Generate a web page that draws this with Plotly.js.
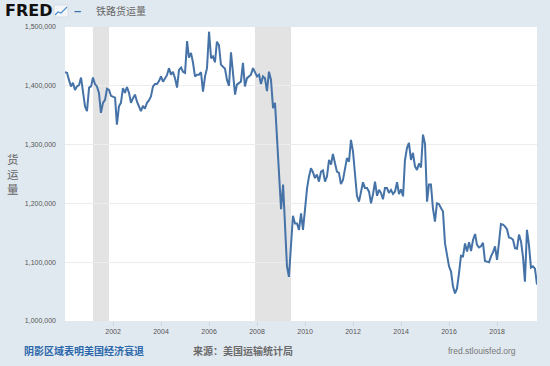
<!DOCTYPE html>
<html>
<head>
<meta charset="utf-8">
<script src="https://cdn.plot.ly/plotly-3.0.1.min.js"></script>
<style>
  html, body { margin: 0; padding: 0; background: #e1e9f0; }
  #chart { width: 550px; height: 366px; }
</style>
</head>
<body>
<div id="chart"></div>
<script>
// Rail freight carloads, monthly (thousands)
const v2000 = [1423, 1422, 1410, 1399, 1405, 1393, 1399, 1401, 1414, 1390, 1365, 1357];
const v2001 = [1397, 1399, 1414, 1403, 1399, 1388, 1354, 1371, 1376, 1395, 1393, 1383];
const v2002 = [1382, 1380, 1334, 1365, 1371, 1396, 1388, 1398, 1388, 1371, 1379, 1385];
const v2003 = [1373, 1365, 1357, 1366, 1361, 1371, 1375, 1382, 1399, 1403, 1403, 1408];
const v2004 = [1416, 1407, 1413, 1418, 1430, 1419, 1424, 1413, 1397, 1427, 1431, 1424];
const v2005 = [1422, 1476, 1448, 1456, 1440, 1416, 1419, 1419, 1423, 1390, 1416, 1430];
const v2006 = [1492, 1447, 1450, 1440, 1475, 1469, 1436, 1433, 1429, 1410, 1400, 1457];
const v2007 = [1413, 1385, 1402, 1405, 1407, 1439, 1399, 1413, 1416, 1419, 1430, 1422];
const v2008 = [1416, 1419, 1403, 1416, 1413, 1391, 1424, 1410, 1362, 1371, 1308, 1238];
const v2009 = [1190, 1232, 1161, 1093, 1075, 1138, 1179, 1166, 1166, 1155, 1183, 1155];
const v2010 = [1192, 1226, 1245, 1260, 1253, 1243, 1249, 1237, 1254, 1256, 1237, 1246];
const v2011 = [1274, 1266, 1284, 1271, 1254, 1252, 1233, 1240, 1263, 1277, 1271, 1308];
const v2012 = [1288, 1243, 1213, 1203, 1220, 1236, 1226, 1226, 1220, 1200, 1216, 1237];
const v2013 = [1213, 1223, 1218, 1207, 1226, 1226, 1218, 1223, 1216, 1220, 1236, 1216];
const v2014 = [1224, 1212, 1273, 1294, 1303, 1274, 1286, 1263, 1257, 1268, 1261, 1317];
const v2015 = [1301, 1203, 1232, 1232, 1192, 1169, 1200, 1199, 1192, 1186, 1132, 1115];
const v2016 = [1093, 1084, 1059, 1047, 1055, 1081, 1111, 1110, 1132, 1118, 1134, 1119];
const v2017 = [1138, 1148, 1130, 1125, 1127, 1133, 1102, 1101, 1100, 1110, 1117, 1127];
const v2018 = [1104, 1135, 1165, 1164, 1161, 1156, 1142, 1141, 1138, 1124, 1123, 1147];
const v2019 = [1135, 1108, 1067, 1155, 1130, 1091, 1093, 1089, 1062];

const yearly = [v2000, v2001, v2002, v2003, v2004, v2005, v2006, v2007, v2008, v2009,
                v2010, v2011, v2012, v2013, v2014, v2015, v2016, v2017, v2018, v2019];
const firstYear = 2000;

const recessionStarts = ['2001-03-01', '2007-12-01'];
const recessionEnds   = ['2001-11-01', '2009-06-01'];

const xTickVals = ['2002-01-01','2004-01-01','2006-01-01','2008-01-01','2010-01-01','2012-01-01','2014-01-01','2016-01-01','2018-01-01'];
const xTickText = ['2002','2004','2006','2008','2010','2012','2014','2016','2018'];
const yTickVals = [1000000, 1100000, 1200000, 1300000, 1400000, 1500000];
const yTickText = ['1,000,000','1,100,000','1,200,000','1,300,000','1,400,000','1,500,000'];

const chartTitle = '铁路货运量';
const yTitle = '货运量';
const noteText = '阴影区域表明美国经济衰退';
const sourceText = '来源：美国运输统计局';
const urlText = 'fred.stlouisfed.org';

// build x/y
const dates = [], vals = [];
yearly.forEach((arr, yi) => {
  arr.forEach((v, m) => {
    dates.push((firstYear + yi) + '-' + String(m + 1).padStart(2, '0') + '-01');
    vals.push(v * 1000);
  });
});

// pixel helpers for decorations
const L = 65, R = 13, T = 27, B = 45, W = 550, H = 366;
const pw = W - L - R, ph = H - T - B;
const px = x => (x - L) / pw;
const py = y => (H - B - y) / ph;

const cjk = '"Noto Sans CJK SC", "Noto Sans", sans-serif';
const sans = '"Liberation Sans", Arial, sans-serif';

const shapes = recessionStarts.map((s, k) => ({
  type: 'rect', xref: 'x', yref: 'paper', x0: s, x1: recessionEnds[k], y0: 0, y1: 1,
  fillcolor: '#e3e3e3', line: { width: 0 }, layer: 'between'
}));
// small FRED chart icon
shapes.push({ type: 'rect', xref: 'paper', yref: 'paper', x0: px(54), x1: px(68), y0: py(17), y1: py(5),
  fillcolor: '#f4f6f8', line: { color: '#c9d3dc', width: 0.6 } });
shapes.push({ type: 'path', xref: 'paper', yref: 'paper',
  path: 'M ' + px(55) + ' ' + py(15) + ' L ' + px(58) + ' ' + py(12) + ' L ' + px(61) + ' ' + py(13) + ' L ' + px(67) + ' ' + py(7),
  line: { color: '#4c8fd0', width: 1.2 } });

const annotations = [
  { text: '<b>FRED</b>', x: px(3), y: py(10.5), xref: 'paper', yref: 'paper', xanchor: 'left', yanchor: 'middle',
    showarrow: false, font: { family: '"DejaVu Sans", sans-serif', size: 16, color: '#111', weight: 900 } },
  { text: '<b>–</b>', x: px(72), y: py(11), xref: 'paper', yref: 'paper', xanchor: 'left', yanchor: 'middle',
    showarrow: false, font: { family: sans, size: 13, color: '#3a75b0' } },
  { text: chartTitle, x: px(94), y: py(11), xref: 'paper', yref: 'paper', xanchor: 'left', yanchor: 'middle',
    showarrow: false, font: { family: cjk, size: 10, color: '#666' } },
  { text: yTitle.split('').join('<br>'), x: px(13), y: py(174), xref: 'paper', yref: 'paper', xanchor: 'center', yanchor: 'middle',
    showarrow: false, font: { family: cjk, size: 11.5, color: '#666' } },
  { text: '<b>' + noteText + '</b>', x: px(22), y: py(351), xref: 'paper', yref: 'paper', xanchor: 'left', yanchor: 'middle',
    showarrow: false, font: { family: cjk, size: 10, color: '#2b67aa' } },
  { text: '<b>' + sourceText + '</b>', x: px(191), y: py(351), xref: 'paper', yref: 'paper', xanchor: 'left', yanchor: 'middle',
    showarrow: false, font: { family: cjk, size: 10, color: '#6a6a6a' } },
  { text: urlText, x: px(518), y: py(351), xref: 'paper', yref: 'paper', xanchor: 'right', yanchor: 'middle',
    showarrow: false, font: { family: sans, size: 8.5, color: '#777' } }
];

const trace = {
  x: dates, y: vals, type: 'scatter', mode: 'lines',
  line: { color: '#4572a7', width: 2 }, hoverinfo: 'x+y'
};

const layout = {
  width: W, height: H,
  margin: { l: L, r: R, t: T, b: B, pad: 0 },
  paper_bgcolor: '#e1e9f0',
  plot_bgcolor: '#ffffff',
  showlegend: false,
  xaxis: {
    type: 'date', range: ['2000-01-01', '2019-09-01'],
    tickmode: 'array', tickvals: xTickVals, ticktext: xTickText,
    ticks: 'outside', ticklen: 4, tickcolor: '#cfd6dc', tickwidth: 1,
    tickfont: { family: sans, size: 7, color: '#555' },
    showgrid: false, zeroline: false, showline: false, fixedrange: true
  },
  yaxis: {
    range: [1000000, 1500000],
    tickmode: 'array', tickvals: yTickVals, ticktext: yTickText,
    ticks: '', ticklabelstandoff: 8,
    tickfont: { family: sans, size: 7, color: '#555' },
    showgrid: true, gridcolor: '#ececec', gridwidth: 1,
    zeroline: false, showline: false, fixedrange: true
  },
  shapes: shapes,
  annotations: annotations
};

Plotly.newPlot('chart', [trace], layout, { staticPlot: true, displayModeBar: false });
</script>
</body>
</html>
